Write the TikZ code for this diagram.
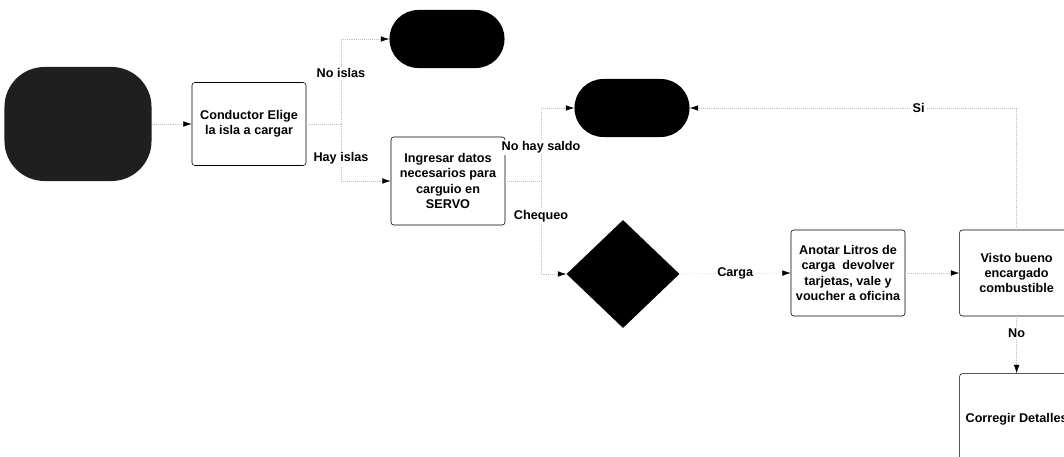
\documentclass[tikz,border=0pt]{standalone}
\usepackage{fontspec}
\setmainfont{Liberation Sans}
\usetikzlibrary{arrows.meta,positioning,shapes.geometric}

\begin{document}
\begin{tikzpicture}[
    x=0.025cm, y=-0.025cm,
    node distance=1.35cm,
    font=\fontsize{9}{11}\selectfont\bfseries,
    box/.style={draw,rounded corners=2pt,minimum width=2.85cm,minimum height=2.15cm,align=center,inner sep=2pt},
    term/.style={fill=black,rounded corners=0.72cm,minimum width=2.875cm,minimum height=1.45cm},
    decision/.style={diamond,fill=black,minimum width=2.825cm,minimum height=2.7cm,inner sep=0pt},
    flow/.style={draw=black!25,densely dotted,-{Latex[black,length=6pt,width=4pt]}},
    lbl/.style={fill=white,inner sep=1pt}]
  \clip (0,0) rectangle (1064,457);
  \node[term,fill=black!88,rounded corners=1cm,minimum width=3.675cm,minimum height=2.85cm] (start) at (78,124) {};
  \node[box,minimum height=2.075cm] (conductor) at (249,124) {Conductor Elige\\la isla a cargar};
  \node[term] (finislas) at (447,39) {};
  \node[box,minimum height=2.2cm] (ingresar) at (448,181) {Ingresar datos\\necesarios para\\carguio en\\SERVO};
  \node[term] (finsaldo) at (632,108) {};
  \node[decision] (chequeo) at (623,274) {};
  \node[box] (anotar) at (848,273) {Anotar Litros de\\carga~ devolver\\tarjetas, vale y\\voucher a oficina};
  \node[box,right=of anotar] (visto) {Visto bueno\\encargado\\combustible};
  \node[box,below=1.425cm of visto,minimum height=2.3cm] (corregir) {Corregir Detalles};
  % puntos de bifurcacion
  \coordinate (split1) at (341,124);
  \coordinate (split2) at (541,181);
  \draw[flow] (start) -- (conductor);
  \draw[draw=black!25,densely dotted] (conductor.east) -- (split1);
  \draw[flow] (split1) |- node[lbl,pos=0.3]{No islas} (finislas.west);
  \draw[flow] (split1) |- node[lbl,pos=0.3]{Hay islas} (ingresar.west);
  \draw[draw=black!25,densely dotted] (ingresar.east) -- (split2);
  \draw[flow] (split2) |- node[lbl,pos=0.23]{No hay saldo} (finsaldo.west);
  \draw[flow] (split2) |- node[lbl,pos=0.19]{Chequeo} (chequeo.west);
  \draw[flow] (chequeo.east) -- node[lbl]{Carga} (anotar.west);
  \draw[flow] (anotar) -- (visto);
  \draw[flow] (visto) -- node[lbl,pos=0.3]{No} (corregir);
  \draw[flow] (visto.north) |- node[lbl,pos=0.65]{Si} (finsaldo.east);
\end{tikzpicture}
\end{document}
